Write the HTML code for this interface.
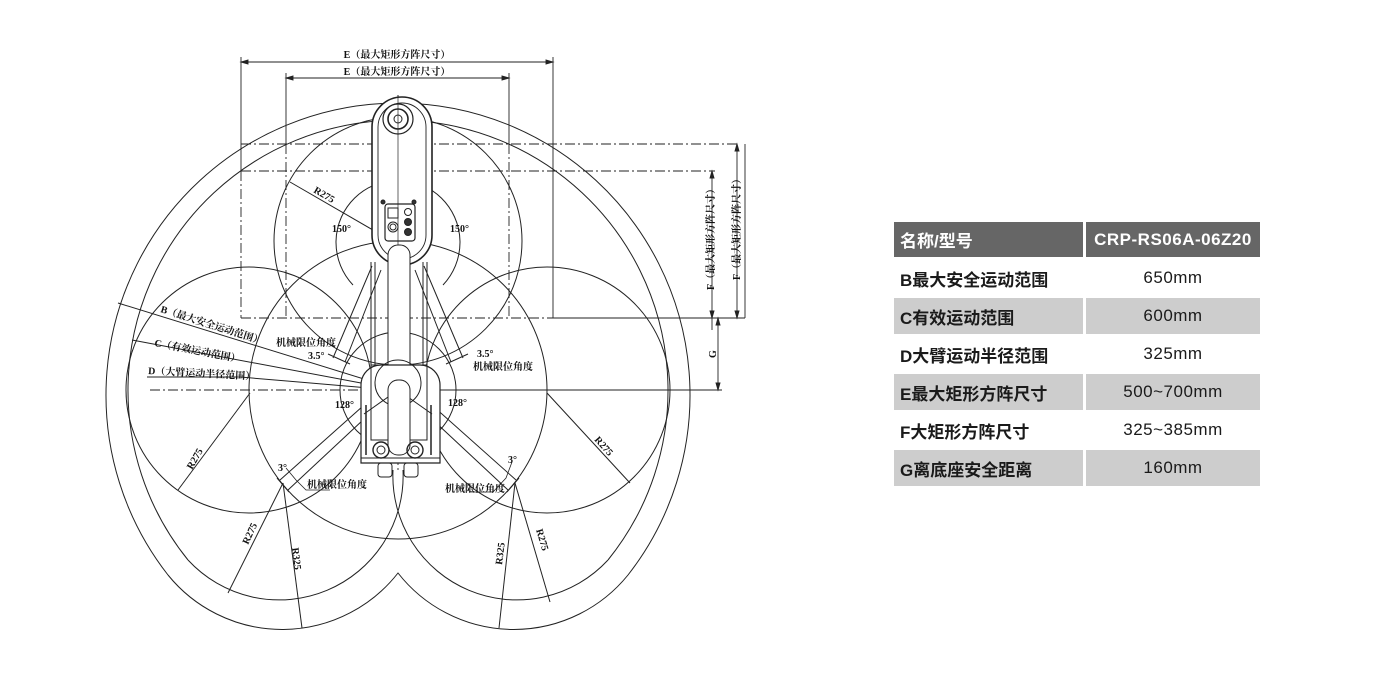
<!DOCTYPE html>
<html><head><meta charset="utf-8">
<style>
html,body{margin:0;padding:0;background:#fff;}
body{width:1400px;height:681px;position:relative;overflow:hidden;font-family:"Liberation Sans","Noto Sans CJK SC",sans-serif;}
svg{position:absolute;left:0;top:0;}
.c{position:absolute;box-sizing:border-box;display:flex;align-items:center;font-size:17px;color:#1a1a1a;}
.l{left:894px;width:189px;padding-left:6px;font-weight:bold;}
.r{left:1086px;width:174px;justify-content:center;letter-spacing:0.5px;}
.h{background:#666;color:#fff;font-weight:bold;}
.g{background:#cdcdcd;}
</style></head><body>
<svg width="1400" height="681" viewBox="0 0 1400 681" fill="none" stroke="#222" stroke-width="1">
<!-- dashed rects & dims -->
<g stroke-width="0.9">
<line x1="241" y1="57" x2="241" y2="171"/>
<line x1="553" y1="57" x2="553" y2="318"/>
<line x1="286" y1="73" x2="286" y2="144"/>
<line x1="509" y1="73" x2="509" y2="144"/>
<line x1="241" y1="62" x2="553" y2="62"/>
<line x1="286" y1="78" x2="509" y2="78"/>
<path d="M241 62 l7 -2 v4 z M553 62 l-7 -2 v4 z M286 78 l7 -2 v4 z M509 78 l-7 -2 v4 z" fill="#222"/>
<g stroke-dasharray="10 3 2 3">
<line x1="241" y1="171" x2="241" y2="318"/>
<line x1="286" y1="144" x2="286" y2="318"/>
<line x1="509" y1="144" x2="509" y2="318"/>
<line x1="241" y1="144" x2="737" y2="144"/>
<line x1="241" y1="171" x2="715" y2="171"/>
<line x1="241" y1="318" x2="553" y2="318"/>
<line x1="150" y1="390" x2="720" y2="390"/>
<line x1="398" y1="95" x2="398" y2="470"/>
</g>
<line x1="553" y1="318" x2="745" y2="318"/>
<line x1="398" y1="390" x2="722" y2="390"/>
<line x1="745" y1="144" x2="745" y2="318"/>
<line x1="737" y1="144" x2="737" y2="318"/>
<line x1="712" y1="171" x2="712" y2="330"/>
<line x1="718" y1="318" x2="718" y2="390"/>
<path d="M737 144 l-2 7 h4 z M737 318 l-2 -7 h4 z M712 171 l-2 7 h4 z M712 318 l-2 -7 h4 z M718 318 l-2 7 h4 z M718 390 l-2 -7 h4 z" fill="#222"/>
</g>
<!-- B boundary -->
<path d="M168 575 A292 292 0 1 1 628 575 A147 147 0 0 1 398 573 A147 147 0 0 1 168 575"/>
<!-- C boundary -->
<path d="M188 560 A270 270 0 1 1 608 560"/>
<path d="M608 560 A124 124 0 0 1 393 470"/>
<path d="M188 560 A124 124 0 0 0 403 470"/>
<!-- elbow circles -->
<circle cx="249" cy="390" r="123"/>
<circle cx="547" cy="390" r="123"/>
<circle cx="398" cy="241" r="124"/>
<circle cx="398" cy="390" r="149"/>
<circle cx="398" cy="390" r="58"/>
<path d="M353 285 A62 62 0 1 1 443 285"/>
<!-- limit lines upper -->
<line x1="372" y1="266" x2="333" y2="358"/><line x1="381" y1="270" x2="345" y2="362"/>
<line x1="328" y1="354" x2="350" y2="364"/>
<line x1="424" y1="266" x2="463" y2="358"/><line x1="415" y1="270" x2="451" y2="362"/>
<line x1="446" y1="364" x2="468" y2="354"/>
<!-- limit lines lower -->
<line x1="372" y1="398" x2="280" y2="480"/><line x1="378" y1="406" x2="288" y2="490"/>
<line x1="277" y1="478" x2="289" y2="492"/>
<line x1="424" y1="398" x2="516" y2="480"/><line x1="418" y1="406" x2="508" y2="490"/>
<line x1="519" y1="478" x2="507" y2="492"/>
<!-- radius lines -->
<line x1="290" y1="182" x2="385" y2="237"/>
<line x1="250" y1="393" x2="178" y2="490"/>
<line x1="547" y1="393" x2="630" y2="483"/>
<line x1="283" y1="483" x2="228" y2="593"/>
<line x1="283" y1="483" x2="302" y2="628"/>
<line x1="515" y1="483" x2="499" y2="628"/>
<line x1="515" y1="483" x2="550" y2="602"/>
<!-- B C D label lines -->
<line x1="118" y1="303" x2="393" y2="388"/>
<line x1="132" y1="340" x2="393" y2="389"/>
<polyline points="147,377 240,377 393,390"/>
<!-- 3 deg leader -->
<polyline points="286,468 296,480 306,490 330,490" stroke-width="0.8"/>
<polyline points="512,462 506,478 493,492 470,492" stroke-width="0.8"/>
<!-- robot upper arm -->
<rect x="372" y="97" width="60" height="168" rx="30" fill="#fff" stroke-width="1.6"/>
<rect x="378" y="103" width="48" height="156" rx="24" stroke-width="0.9"/>
<circle cx="398" cy="119" r="15" stroke-width="1.2"/>
<circle cx="398" cy="119" r="10" stroke-width="1.6"/>
<circle cx="398" cy="119" r="4" stroke-width="1"/>
<line x1="398" y1="95" x2="398" y2="265" stroke-width="0.7"/>
<rect x="385" y="204" width="30" height="37" rx="3" stroke-width="1.2"/>
<rect x="388" y="208" width="10" height="10"/>
<circle cx="393" cy="227" r="5"/><circle cx="393" cy="227" r="3"/>
<circle cx="408" cy="212" r="3.5"/><circle cx="408" cy="222" r="3.5" fill="#333"/><circle cx="408" cy="232" r="3.5" fill="#333"/>
<circle cx="383" cy="202" r="2" fill="#333"/><circle cx="414" cy="202" r="2" fill="#333"/>
<!-- lower link -->
<rect x="388" y="245" width="22" height="210" rx="10" fill="#fff"/>
<line x1="371" y1="262" x2="371" y2="365"/><line x1="375" y1="262" x2="375" y2="365"/>
<line x1="427" y1="262" x2="427" y2="365"/><line x1="423" y1="262" x2="423" y2="365"/>
<!-- base -->
<path d="M361 463 V385 A20 20 0 0 1 381 365 H420 A20 20 0 0 1 440 385 V463 Z" fill="#fff" stroke-width="1.2"/>
<rect x="371" y="365" width="56" height="75" fill="none"/>
<circle cx="398" cy="383" r="23"/>
<line x1="398" y1="390" x2="364" y2="414"/><line x1="398" y1="390" x2="432" y2="414"/>
<rect x="388" y="380" width="22" height="75" rx="10" fill="#fff"/>
<circle cx="381" cy="450" r="8" stroke-width="1.4"/><circle cx="381" cy="450" r="4"/>
<circle cx="415" cy="450" r="8" stroke-width="1.4"/><circle cx="415" cy="450" r="4"/>
<line x1="366" y1="405" x2="366" y2="455" stroke-width="1.5"/><line x1="431" y1="405" x2="431" y2="455" stroke-width="1.5"/>
<line x1="361" y1="458" x2="440" y2="458"/>
<rect x="378" y="463" width="14" height="14" rx="3"/><rect x="404" y="463" width="14" height="14" rx="3"/>
<!-- text -->
<g fill="#111" stroke="none" font-family="Liberation Serif,Noto Serif CJK SC,serif" font-size="10" font-weight="bold">
<text x="397" y="58" text-anchor="middle">E（最大矩形方阵尺寸）</text>
<text x="397" y="75" text-anchor="middle">E（最大矩形方阵尺寸）</text>
<text transform="translate(714,290) rotate(-90)">F（最大矩形方阵尺寸）</text>
<text transform="translate(740,280) rotate(-90)">F（最大矩形方阵尺寸）</text>
<text transform="translate(716,358) rotate(-90)">G</text>
<text transform="translate(160,312) rotate(17.6)">B（最大安全运动范围）</text>
<text transform="translate(154,346) rotate(10.8)">C（有效运动范围）</text>
<text x="148" y="374" transform="rotate(3 148 374)">D（大臂运动半径范围）</text>
<text transform="translate(313,192) rotate(30)">R275</text>
<text x="332" y="232">150°</text>
<text x="450" y="232">150°</text>
<text x="276" y="346">机械限位角度</text>
<text x="308" y="359">3.5°</text>
<text x="477" y="357">3.5°</text>
<text x="473" y="370">机械限位角度</text>
<text x="335" y="408">128°</text>
<text x="448" y="406">128°</text>
<text x="278" y="471">3°</text>
<text x="508" y="463">3°</text>
<text x="307" y="488">机械限位角度</text>
<text x="445" y="492">机械限位角度</text>
<text transform="translate(192,470) rotate(-60)">R275</text>
<text transform="translate(594,440) rotate(48)">R275</text>
<text transform="translate(248,545) rotate(-65)">R275</text>
<text transform="translate(292,548) rotate(83)">R325</text>
<text transform="translate(502,565) rotate(-83)">R325</text>
<text transform="translate(536,530) rotate(73)">R275</text>
</g>
</svg>
<div class="c l h" style="top:222px;height:35px;">名称/型号</div>
<div class="c r h" style="top:222px;height:35px;font-weight:bold;">CRP-RS06A-06Z20</div>
<div class="c l" style="top:260px;height:36px;">B最大安全运动范围</div>
<div class="c r" style="top:260px;height:36px;">650mm</div>
<div class="c l g" style="top:298px;height:36px;">C有效运动范围</div>
<div class="c r g" style="top:298px;height:36px;">600mm</div>
<div class="c l" style="top:336px;height:36px;">D大臂运动半径范围</div>
<div class="c r" style="top:336px;height:36px;">325mm</div>
<div class="c l g" style="top:374px;height:36px;">E最大矩形方阵尺寸</div>
<div class="c r g" style="top:374px;height:36px;">500~700mm</div>
<div class="c l" style="top:412px;height:36px;">F大矩形方阵尺寸</div>
<div class="c r" style="top:412px;height:36px;">325~385mm</div>
<div class="c l g" style="top:450px;height:36px;">G离底座安全距离</div>
<div class="c r g" style="top:450px;height:36px;">160mm</div>
</body></html>
